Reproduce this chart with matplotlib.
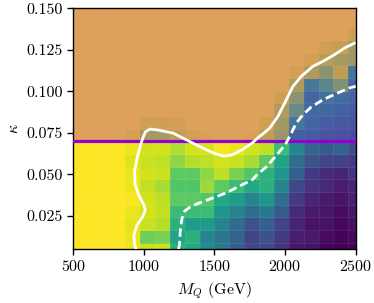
import numpy as np
import matplotlib
matplotlib.use("Agg")
import matplotlib.pyplot as plt
from matplotlib.ticker import FormatStrFormatter

plt.rcParams["font.family"] = "serif"
plt.rcParams["font.serif"] = ["cmr10"]
plt.rcParams["mathtext.fontset"] = "cm"
plt.rcParams["axes.formatter.use_mathtext"] = True
plt.rcParams["font.size"] = 11.5

# grid of cell centres
mass = np.linspace(500, 2500, 20)
kappa = np.linspace(0.005, 0.150, 20)

# normalised values (rows: kappa from bottom to top, cols: mass)
z_rows = [
    [1, 1, 1, 1, 0.98, 0.92, 0.92, 0.64, 0.60, 0.48, 0.40, 0.30, 0.22, 0.22, 0.15, 0.06, 0.05, 0.01, 0.00, 0.00],
    [1, 1, 1, 1, 0.97, 0.78, 0.80, 0.58, 0.64, 0.45, 0.40, 0.32, 0.20, 0.25, 0.17, 0.08, 0.07, 0.03, 0.01, 0.02],
    [1, 1, 1, 1, 0.96, 0.92, 0.89, 0.64, 0.55, 0.55, 0.45, 0.35, 0.25, 0.30, 0.20, 0.10, 0.05, 0.05, 0.02, 0.04],
    [1, 1, 1, 1, 0.97, 0.93, 0.91, 0.68, 0.68, 0.68, 0.52, 0.45, 0.35, 0.40, 0.28, 0.12, 0.07, 0.06, 0.03, 0.06],
    [1, 1, 1, 1, 0.99, 0.93, 0.90, 0.75, 0.75, 0.73, 0.60, 0.55, 0.45, 0.52, 0.35, 0.17, 0.10, 0.07, 0.05, 0.09],
    [1, 1, 1, 1, 0.97, 0.91, 0.87, 0.73, 0.73, 0.85, 0.75, 0.68, 0.60, 0.64, 0.45, 0.22, 0.15, 0.11, 0.08, 0.10],
    [1, 1, 1, 1, 0.97, 0.93, 0.92, 0.75, 0.75, 0.83, 0.90, 0.80, 0.73, 0.64, 0.52, 0.30, 0.17, 0.12, 0.10, 0.15],
    [1, 1, 1, 1, 0.95, 0.92, 0.91, 0.83, 0.89, 0.90, 0.93, 0.92, 0.87, 0.75, 0.58, 0.35, 0.25, 0.20, 0.19, 0.17],
    [1, 1, 1, 1, 0.97, 0.93, 0.93, 0.88, 0.93, 0.94, 0.99, 0.97, 0.93, 0.90, 0.68, 0.45, 0.32, 0.28, 0.31, 0.23],
    [1, 1, 1, 1, 0.98, 0.88, 0.88, 0.93, 0.98, 0.99, 1, 1, 0.99, 0.93, 0.85, 0.47, 0.45, 0.40, 0.38, 0.35],
    [1, 1, 1, 1, 1, 0.97, 0.97, 0.98, 1, 1, 1, 1, 1, 0.97, 0.87, 0.60, 0.50, 0.45, 0.42, 0.40],
    [1, 1, 1, 1, 1, 1, 1, 1, 1, 1, 1, 1, 1, 1, 0.90, 0.74, 0.52, 0.52, 0.48, 0.45],
    [1, 1, 1, 1, 1, 1, 1, 1, 1, 1, 1, 1, 1, 1, 0.97, 0.82, 0.50, 0.58, 0.55, 0.50],
    [1, 1, 1, 1, 1, 1, 1, 1, 1, 1, 1, 1, 1, 1, 1, 0.90, 0.62, 0.70, 0.80, 0.50],
    [1, 1, 1, 1, 1, 1, 1, 1, 1, 1, 1, 1, 1, 1, 1, 0.98, 0.90, 0.82, 0.93, 0.60],
    [1, 1, 1, 1, 1, 1, 1, 1, 1, 1, 1, 1, 1, 1, 1, 1, 0.98, 0.92, 0.88, 0.86],
    [1, 1, 1, 1, 1, 1, 1, 1, 1, 1, 1, 1, 1, 1, 1, 1, 1, 0.97, 0.95, 0.87],
    [1, 1, 1, 1, 1, 1, 1, 1, 1, 1, 1, 1, 1, 1, 1, 1, 1, 1, 1, 0.96],
    [1, 1, 1, 1, 1, 1, 1, 1, 1, 1, 1, 1, 1, 1, 1, 1, 1, 1, 1, 1],
    [1, 1, 1, 1, 1, 1, 1, 1, 1, 1, 1, 1, 1, 1, 1, 1, 1, 1, 1, 1],
]

# solid contour
solid_m = [945, 934, 929, 952, 993, 1009, 1000, 962, 938, 934, 952, 977, 993, 1010, 1042, 1090,
           1207, 1297, 1367, 1438, 1509, 1568, 1627, 1698, 1768, 1806, 1848, 1891, 1949, 2009,
           2055, 2115, 2197, 2268, 2350, 2421, 2492]
solid_k = [0.005, 0.0075, 0.0135, 0.0196, 0.0246, 0.0286, 0.0316, 0.0377, 0.0437, 0.0518, 0.0599,
           0.0679, 0.0719, 0.0755, 0.0772, 0.0768, 0.0748, 0.0709, 0.0679, 0.0649, 0.0623, 0.0609,
           0.0618, 0.0649, 0.0689, 0.0719, 0.0747, 0.0778, 0.0848, 0.0949, 0.1029, 0.109, 0.115,
           0.118, 0.122, 0.126, 0.129]

# dashed contour
dash_m = [1245, 1252, 1259, 1270, 1290, 1330, 1391, 1486, 1580, 1674, 1768, 1801, 1872, 1942,
          2002, 2044, 2079, 2126, 2185, 2268, 2362, 2456, 2500]
dash_k = [0.005, 0.0075, 0.0176, 0.0235, 0.028, 0.0305, 0.0327, 0.0357, 0.0387, 0.0428, 0.0467,
          0.0498, 0.0548, 0.0618, 0.0679, 0.0748, 0.0808, 0.0858, 0.0905, 0.0949, 0.0985, 0.102,
          0.103]

kappa_cut = 0.07

fig = plt.figure(figsize=(3.74, 3.03), dpi=100)
ax = fig.add_axes([0.196, 0.178, 0.755, 0.795])

Z = np.array(z_rows)
ax.pcolormesh(mass, kappa, Z, cmap="viridis", vmin=0, vmax=1, shading="nearest",
              edgecolors=(1, 1, 1, 0.07), linewidth=0.4)

ax.axhspan(kappa_cut, 0.15, color="darkviolet", alpha=0.3, lw=0, zorder=2)
ax.axhline(kappa_cut, color="darkviolet", lw=2.3, zorder=3)

ax.plot(solid_m, solid_k, color="white", lw=2.0, zorder=4,
        solid_joinstyle="round", solid_capstyle="round")
ax.plot(dash_m, dash_k, color="white", lw=2.0, ls=(0, (3.0, 1.5)), zorder=4)

ax.set_xlim(500, 2500)
ax.set_ylim(0.005, 0.150)
ax.set_xticks([500, 1000, 1500, 2000, 2500])
ax.set_yticks([0.025, 0.050, 0.075, 0.100, 0.125, 0.150])
ax.yaxis.set_major_formatter(FormatStrFormatter("%.3f"))
ax.tick_params(direction="out", length=4, width=1)
for s in ax.spines.values():
    s.set_linewidth(1.0)

ax.set_xlabel(r"$M_Q$ (GeV)")
ax.set_ylabel(r"$\kappa$")

fig.savefig("out.png", dpi=100)
